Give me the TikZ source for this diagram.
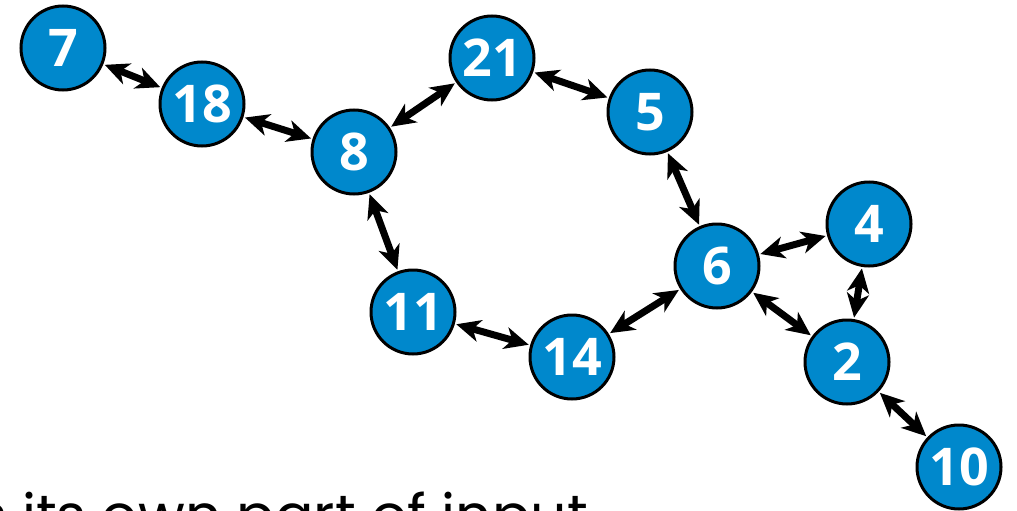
\documentclass[tikz,border=0pt]{standalone}
\usepackage{fontspec}
\usetikzlibrary{arrows.meta}
\newfontfamily\vertexfont{Open Sans}
\newfontfamily\captionfont{Poppins}
\definecolor{NodeBlue}{HTML}{0088CC}

\tikzset{
  vertex/.style={circle, draw=black, line width=3pt, fill=NodeBlue,
    minimum size=84pt, inner sep=0pt, outer sep=3pt, text=white,
    font=\vertexfont\bfseries\fontsize{52}{52}\selectfont},
  link/.style={line width=7pt, {Stealth[length=24pt,width=22pt,inset=7pt]}-{Stealth[length=24pt,width=22pt,inset=7pt]}}
}

\begin{document}
\begin{tikzpicture}[x=1pt,y=-1pt]
\useasboundingbox (0,0) rectangle (1017,511);
\clip (0,0) rectangle (1017,511);

% the vertices
\node[vertex] (n7)  at (63,48)   {7};
\node[vertex] (n18) at (202,104) {18};
\node[vertex] (n8)  at (354,152) {8};
\node[vertex] (n21) at (492,58)  {21};
\node[vertex] (n5)  at (650,112) {5};
\node[vertex] (n6)  at (717,266) {6};
\node[vertex] (n4)  at (869,224) {4};
\node[vertex] (n2)  at (847,362) {2};
\node[vertex] (n10) at (959,467) {10};
\node[vertex] (n11) at (413,312) {11};
\node[vertex] (n14) at (572,357) {14};

% the edges, both ways
\draw[link] (n7) -- (n18);
\draw[link] (n18) -- (n8);
\draw[link] (n8) -- (n21);
\draw[link] (n21) -- (n5);
\draw[link] (n5) -- (n6);
\draw[link] (n8) -- (n11);
\draw[link] (n11) -- (n14);
\draw[link] (n14) -- (n6);
\draw[link] (n6) -- (n4);
\draw[link] (n6) -- (n2);
\draw[link] (n4) -- (n2);
\draw[link] (n2) -- (n10);

% caption, runs off the bottom edge
\node[anchor=base east, inner sep=0pt, font=\captionfont\fontsize{57}{57}\selectfont] (cap) at (588,535) {is its own part of input};
\end{tikzpicture}
\end{document}
